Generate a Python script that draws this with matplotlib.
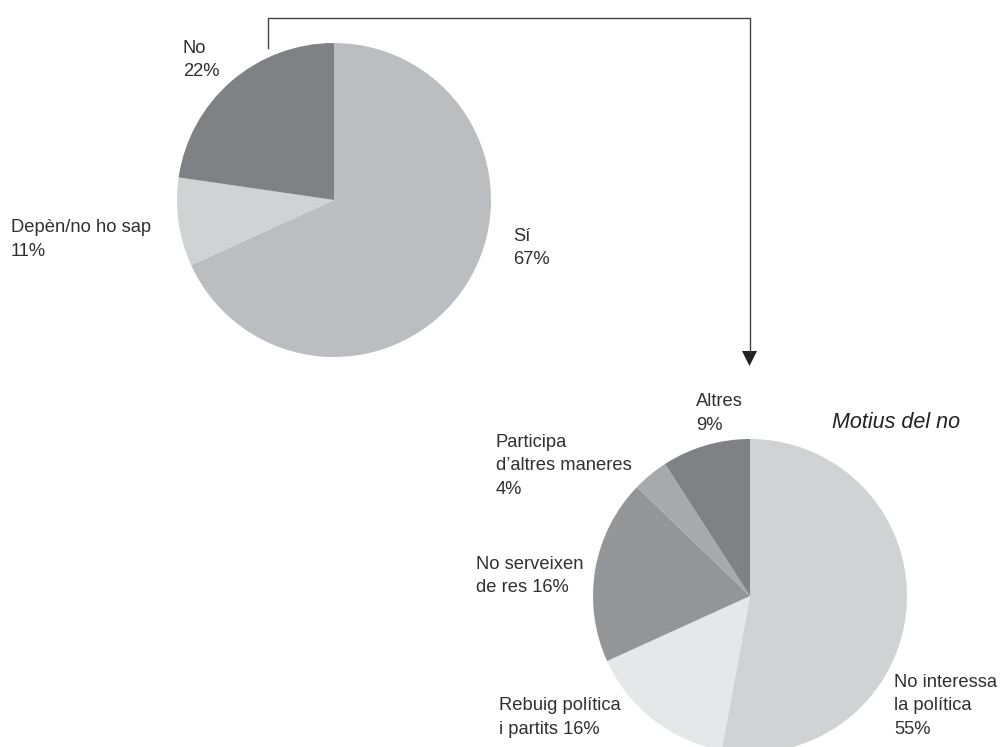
import numpy as np
import matplotlib.pyplot as plt

plt.rcParams['font.family'] = ['Liberation Sans', 'DejaVu Sans']

# Top pie: "Sí / Depèn / No" (slice shares, labels as printed)
top_labels = ["Sí\n67%", "Depèn/no ho sap\n11%", "No\n22%"]
top_share = [68.2, 9.1, 22.7]
top_colors = ["#bcbdc0", "#d1d2d4", "#808184"]

# Bottom pie: reasons for "no"
bot_labels = ["No interessa\nla política\n55%", "Rebuig política\ni partits 16%",
              "No serveixen\nde res 16%", "Participa\nd’altres maneres\n4%", "Altres\n9%"]
bot_share = [52.9, 15.3, 19.0, 3.7, 9.1]
bot_colors = ["#d1d2d4", "#e6e7e8", "#939598", "#a7a9ac", "#808184"]

W, H = 1002, 747
fig = plt.figure(figsize=(W / 100, H / 100), dpi=100)
ax = fig.add_axes([0, 0, 1, 1])

R = 157
top_c = (334, H - 200)
bot_c = (750, H - 596)

ax.pie(top_share, colors=top_colors, startangle=90, counterclock=False,
       center=top_c, radius=R, wedgeprops=dict(linewidth=0))
ax.pie(bot_share, colors=bot_colors, startangle=90, counterclock=False,
       center=bot_c, radius=R, wedgeprops=dict(linewidth=0))

ax.set_xlim(0, W)
ax.set_ylim(0, H)
ax.set_aspect('equal')
ax.axis('off')

LINE = 23.5  # pixel distance between baselines


def label(x, y0, text):
    # y0 = pixel baseline of first line
    for i, line in enumerate(text.split("\n")):
        ax.text(x, H - (y0 + i * LINE), line, fontsize=13.2, color="#303030",
                ha="left", va="baseline")


top_pos = [(513, 241), (11, 232), (183, 53)]
for lab, (x, y) in zip(top_labels, top_pos):
    label(x, y, lab)

bot_pos = [(894, 687), (499, 710), (476, 569), (496, 447), (696, 406)]
for lab, (x, y) in zip(bot_labels, bot_pos):
    label(x, y, lab)

ax.text(832, H - 428, "Motius del no", fontsize=15.5, style="italic",
        color="#222222", ha="left", va="baseline")

# connector from the "No" slice to the second pie
ax.plot([268, 268, 750, 750], [H - 48, H - 18, H - 18, H - 352],
        color="#444444", linewidth=1)
ax.fill([742, 757, 749.5], [H - 351, H - 351, H - 366], color="#222222", linewidth=0)

fig.savefig("out.png", dpi=100)
